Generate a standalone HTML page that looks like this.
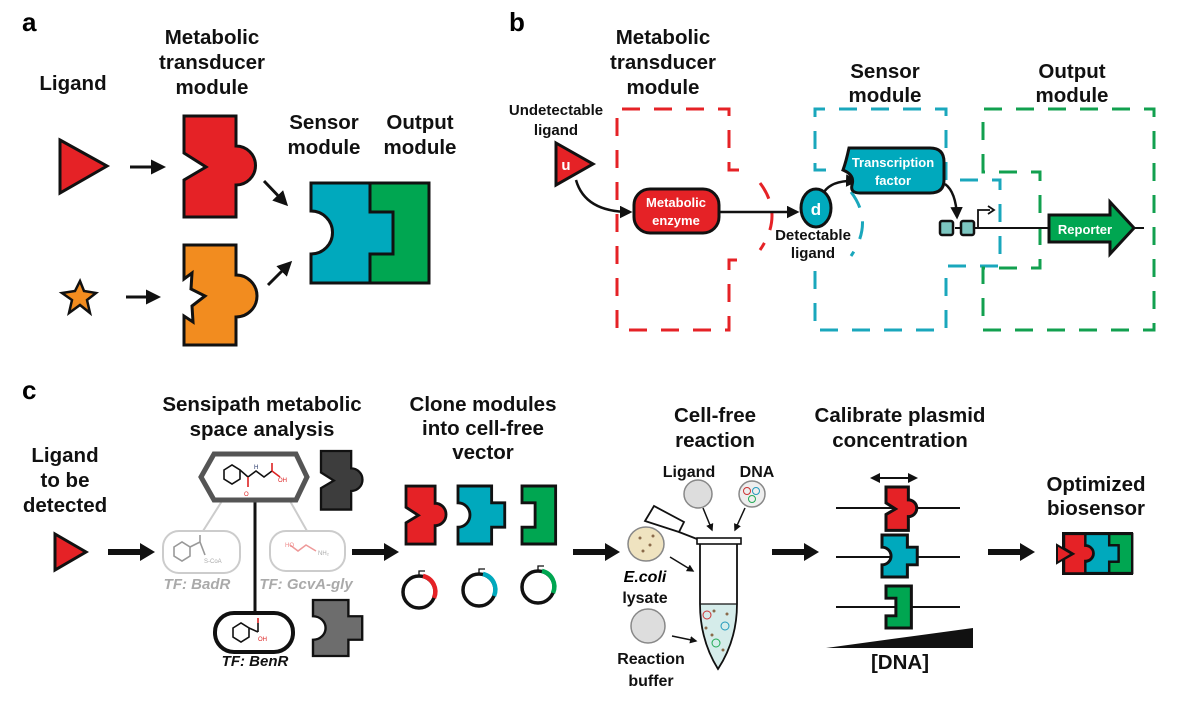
<!DOCTYPE html>
<html><head><meta charset="utf-8"><style>
html,body{margin:0;padding:0;background:#fff}
svg{display:block}
text{font-family:"Liberation Sans",Arial,sans-serif}
.t{font-size:20.5px;font-weight:bold;fill:#111;text-anchor:middle}
.s{font-size:15px;font-weight:bold;fill:#111;text-anchor:middle}
.w{font-size:13px;font-weight:bold;fill:#fff;text-anchor:middle}
</style></head><body>
<svg width="1200" height="717" viewBox="0 0 1200 717" xmlns="http://www.w3.org/2000/svg">
<defs>
<marker id="ah" viewBox="0 0 10 10" refX="8" refY="5" markerWidth="5" markerHeight="5" orient="auto"><path d="M0,0 L10,5 L0,10 Z" fill="#111"/></marker>
<path id="pr" d="M0,0 H52 V30 A19.5,19.5 0 0 1 52,69 V101 H0 V64 L22,51 L0,37 Z"/>
<path id="pc" d="M0,0 H59 V29 H82 V71 H59 V100 H0 V71 A21,21 0 0 0 0,29 Z"/>
<path id="pg" d="M0,0 H59 V100 H0 V71 H23 V29 H0 Z"/>
</defs>

<!-- ============ PANEL A ============ -->
<text x="22" y="31" style="font-size:26px;font-weight:bold">a</text>
<text class="t" x="73" y="90">Ligand</text>
<text class="t" x="212" y="44">Metabolic</text>
<text class="t" x="212" y="69">transducer</text>
<text class="t" x="212" y="94">module</text>
<text class="t" x="324" y="129">Sensor</text>
<text class="t" x="324" y="154">module</text>
<text class="t" x="420" y="129">Output</text>
<text class="t" x="420" y="154">module</text>

<polygon points="60,140 107,166 60,193" fill="#e52226" stroke="#111" stroke-width="3"/>
<line x1="130" y1="167" x2="163" y2="167" stroke="#111" stroke-width="3" marker-end="url(#ah)"/>
<path d="M184,116 H236 V146 A19.5,19.5 0 0 1 236,185 V217 H184 V180 L206,167 L184,153 Z" fill="#e52226" stroke="#111" stroke-width="3"/>

<polygon points="80,281 84,291 96,293 87,300 90,313 80,305 69,313 72,300 62,293 75,291" fill="#f28c1f" stroke="#111" stroke-width="2.5"/>
<line x1="126" y1="297" x2="158" y2="297" stroke="#111" stroke-width="3" marker-end="url(#ah)"/>
<path d="M184,245 H236 V275 A21,21 0 0 1 236,317 V345 H184 V316 L193,322 L192,306 L205,296 L191,289 L192,273 L184,279 Z" fill="#f28c1f" stroke="#111" stroke-width="3"/>

<line x1="264" y1="181" x2="286" y2="204" stroke="#111" stroke-width="3" marker-end="url(#ah)"/>
<line x1="268" y1="285" x2="290" y2="263" stroke="#111" stroke-width="3" marker-end="url(#ah)"/>

<path d="M311,183 H370 V212 H393 V254 H370 V283 H311 V254 A21.5,21.5 0 0 0 311,211 Z" fill="#00a9bd" stroke="#111" stroke-width="3"/>
<path d="M370,183 H429 V283 H370 V254 H393 V212 H370 Z" fill="#00a651" stroke="#111" stroke-width="3"/>

<!-- ============ PANEL B ============ -->
<text x="509" y="31" style="font-size:26px;font-weight:bold">b</text>
<text class="t" x="663" y="44">Metabolic</text>
<text class="t" x="663" y="69">transducer</text>
<text class="t" x="663" y="94">module</text>
<text class="t" x="885" y="78">Sensor</text>
<text class="t" x="885" y="102">module</text>
<text class="t" x="1072" y="78">Output</text>
<text class="t" x="1072" y="102">module</text>
<text class="s" x="556" y="115">Undetectable</text>
<text class="s" x="556" y="135">ligand</text>

<g fill="none" stroke-width="3" stroke-dasharray="18,14">
<path d="M739,170 H729 V109 H617 V330 H729 V260 H739" stroke="#e52226"/>
<path d="M760,183 Q784,215 760,250" stroke="#e52226"/>
<path d="M826,170 H815 V109 H946 V180 H1000 V266 H946 V330 H815 V268 H826" stroke="#1aa7bc"/>
<path d="M851,192 Q874,222 851,256" stroke="#1aa7bc"/>
<path d="M983,172 V109 H1154 V330 H983 V268 H1040 V172 Z" stroke="#12a04f"/>
</g>

<polygon points="556,143 593,164 556,185" fill="#e52226" stroke="#111" stroke-width="3"/>
<text x="566" y="170" style="font-size:15px;font-weight:bold;fill:#fff;text-anchor:middle">u</text>
<path d="M576,180 Q585,212 630,212" fill="none" stroke="#111" stroke-width="2.5" marker-end="url(#ah)"/>
<rect x="634" y="189" width="85" height="44" rx="16" fill="#e52226" stroke="#111" stroke-width="3"/>
<text class="w" x="676" y="207">Metabolic</text>
<text class="w" x="676" y="225">enzyme</text>
<line x1="719" y1="212" x2="797" y2="212" stroke="#111" stroke-width="2.5" marker-end="url(#ah)"/>
<ellipse cx="816" cy="208" rx="15" ry="19" fill="#00a9bd" stroke="#111" stroke-width="3"/>
<text x="816" y="215" style="font-size:17px;font-weight:bold;fill:#fff;text-anchor:middle">d</text>
<text class="s" x="813" y="240">Detectable</text>
<text class="s" x="813" y="258">ligand</text>
<path d="M824,192 Q832,180 856,181" fill="none" stroke="#111" stroke-width="2.5" marker-end="url(#ah)"/>
<path d="M849,148 H930 Q944,148 944,162 V180 Q944,193 930,193 H860 Q850,193 852,185 Q855,175 843,170 Q846,162 849,148 Z" fill="#00a9bd" stroke="#111" stroke-width="3"/>
<text class="w" x="893" y="167">Transcription</text>
<text class="w" x="893" y="185">factor</text>
<path d="M945,184 Q956,192 957,217" fill="none" stroke="#111" stroke-width="2.5" marker-end="url(#ah)"/>
<line x1="955" y1="228" x2="1144" y2="228" stroke="#111" stroke-width="2"/>
<rect x="940" y="221" width="13" height="14" rx="2" fill="#7cc6c0" stroke="#111" stroke-width="2.5"/>
<rect x="961" y="221" width="13" height="14" rx="2" fill="#7cc6c0" stroke="#111" stroke-width="2.5"/>
<path d="M978,228 V210 H990" fill="none" stroke="#111" stroke-width="1.8"/>
<path d="M988,206 L994,210 L988,214" fill="none" stroke="#111" stroke-width="1.8"/>
<polygon points="1049,215 1110,215 1110,202 1134,228 1110,254 1110,242 1049,242" fill="#00a651" stroke="#111" stroke-width="3"/>
<text class="w" x="1085" y="234">Reporter</text>

<!-- ============ PANEL C ============ -->
<text x="22" y="399" style="font-size:26px;font-weight:bold">c</text>
<text class="t" x="65" y="462">Ligand</text>
<text class="t" x="65" y="487">to be</text>
<text class="t" x="65" y="512">detected</text>
<polygon points="55,534 86,552 55,570" fill="#e52226" stroke="#111" stroke-width="3"/>

<g fill="#111">
<polygon points="108,549 140,549 140,543 155,552 140,561 140,555 108,555"/>
<polygon points="352,549 384,549 384,543 399,552 384,561 384,555 352,555"/>
<polygon points="573,549 605,549 605,543 620,552 605,561 605,555 573,555"/>
<polygon points="772,549 804,549 804,543 819,552 804,561 804,555 772,555"/>
<polygon points="988,549 1020,549 1020,543 1035,552 1020,561 1020,555 988,555"/>
</g>

<text class="t" x="262" y="411">Sensipath metabolic</text>
<text class="t" x="262" y="436">space analysis</text>
<line x1="222" y1="501" x2="203" y2="531" stroke="#ccc" stroke-width="2"/>
<line x1="290" y1="501" x2="307" y2="531" stroke="#ccc" stroke-width="2"/>
<line x1="255" y1="501" x2="255" y2="613" stroke="#111" stroke-width="3"/>
<polygon points="201,477 214,454 296,454 307,477 296,500 214,500" fill="#fff" stroke="#555" stroke-width="5"/>
<g fill="none" stroke="#111" stroke-width="1.6">
<polygon points="224,470 232,465 240,470 240,479 232,484 224,479"/>
<path d="M240,470 L248,477 L256,471 L264,477 L272,471"/>
<path d="M248,477 V487" stroke="#d22"/><path d="M272,471 V463" stroke="#d22"/><path d="M272,471 L280,477" stroke="#d22"/>
</g>
<text x="244" y="496" style="font-size:6px;fill:#d22">O</text>
<text x="254" y="469" style="font-size:6px;fill:#236">H</text>
<text x="278" y="482" style="font-size:6px;fill:#d22">OH</text>
<use href="#pr" transform="translate(321,451) scale(0.58)" fill="#3d3d3d" stroke="#111" stroke-width="4"/>

<rect x="163" y="531" width="77" height="42" rx="16" fill="#fff" stroke="#ccc" stroke-width="2"/>
<g fill="none" stroke="#999" stroke-width="1.6">
<polygon points="174,547 182,542 190,547 190,556 182,561 174,556"/>
<path d="M190,547 L200,542 M200,542 V535 M200,542 L205,555"/>
</g>
<text x="204" y="563" style="font-size:6px;fill:#aaa">S-CoA</text>
<rect x="270" y="531" width="75" height="40" rx="16" fill="#fff" stroke="#ccc" stroke-width="2"/>
<path d="M290,545 L298,551 L306,545 L316,551" fill="none" stroke="#e99" stroke-width="1.5"/>
<text x="285" y="547" style="font-size:6px;fill:#e88">HO</text>
<text x="318" y="555" style="font-size:6px;fill:#aaa">NH₂</text>
<text x="197" y="589" style="font-size:15px;font-weight:bold;font-style:italic;fill:#aaa;text-anchor:middle">TF: BadR</text>
<text x="306" y="589" style="font-size:15px;font-weight:bold;font-style:italic;fill:#aaa;text-anchor:middle">TF: GcvA-gly</text>

<rect x="215" y="613" width="78" height="39" rx="19" fill="#fff" stroke="#111" stroke-width="4"/>
<g fill="none" stroke="#111" stroke-width="1.6">
<polygon points="233,628 241,623 249,628 249,637 241,642 233,637"/>
<path d="M249,628 L258,632 M258,632 V623"/>
</g>
<path d="M258,623 V618" stroke="#d22" stroke-width="1.6"/>
<text x="258" y="641" style="font-size:6px;fill:#d22">OH</text>
<text x="255" y="666" style="font-size:15px;font-weight:bold;font-style:italic;fill:#111;text-anchor:middle">TF: BenR</text>
<use href="#pc" transform="translate(313,600) scale(0.6,0.56)" fill="#6d6d6d" stroke="#111" stroke-width="4"/>

<text class="t" x="483" y="411">Clone modules</text>
<text class="t" x="483" y="435">into cell-free</text>
<text class="t" x="483" y="459">vector</text>
<use href="#pr" transform="translate(406,486) scale(0.56,0.575)" fill="#e52226" stroke="#111" stroke-width="5"/>
<use href="#pc" transform="translate(458,486) scale(0.57,0.58)" fill="#00a9bd" stroke="#111" stroke-width="5"/>
<use href="#pg" transform="translate(522,486) scale(0.57,0.58)" fill="#00a651" stroke="#111" stroke-width="5"/>
<g fill="none" stroke-width="3.5">
<circle cx="419" cy="592" r="16" stroke="#111"/><path d="M423,576 A16,16 0 0 1 434,598" stroke="#e52226" stroke-width="4.5"/>
<circle cx="479" cy="590" r="16" stroke="#111"/><path d="M483,574 A16,16 0 0 1 494,596" stroke="#00a9bd" stroke-width="4.5"/>
<circle cx="538" cy="587" r="16" stroke="#111"/><path d="M542,571 A16,16 0 0 1 553,593" stroke="#00a651" stroke-width="4.5"/>
</g>
<g fill="none" stroke="#111" stroke-width="1.3">
<path d="M419,576 V571 H425"/><path d="M479,574 V569 H485"/><path d="M538,571 V566 H544"/>
</g>

<text class="t" x="715" y="422">Cell-free</text>
<text class="t" x="715" y="447">reaction</text>
<text class="s" x="689" y="477" style="font-size:16px">Ligand</text>
<text class="s" x="757" y="477" style="font-size:16px">DNA</text>
<circle cx="698" cy="494" r="14" fill="#ddd" stroke="#888" stroke-width="1.5"/>
<circle cx="752" cy="494" r="13" fill="#eee" stroke="#888" stroke-width="1.5"/>
<circle cx="747" cy="491" r="3.5" fill="none" stroke="#c33" stroke-width="1"/>
<circle cx="756" cy="491" r="3.5" fill="none" stroke="#29b" stroke-width="1"/>
<circle cx="752" cy="499" r="3.5" fill="none" stroke="#2a5" stroke-width="1"/>
<line x1="703" y1="508" x2="712" y2="530" stroke="#111" stroke-width="1.5" marker-end="url(#ah)"/>
<line x1="745" y1="508" x2="735" y2="530" stroke="#111" stroke-width="1.5" marker-end="url(#ah)"/>
<ellipse cx="646" cy="544" rx="18" ry="17" fill="#efe3c0" stroke="#888" stroke-width="1.5"/>
<g fill="#8a6a4a"><circle cx="640" cy="538" r="1.5"/><circle cx="650" cy="545" r="1.5"/><circle cx="643" cy="551" r="1.5"/><circle cx="653" cy="536" r="1.5"/></g>
<text x="645" y="582" style="font-size:16px;font-weight:bold;font-style:italic;text-anchor:middle">E.coli</text>
<text class="s" x="645" y="603" style="font-size:16px">lysate</text>
<line x1="670" y1="557" x2="693" y2="571" stroke="#111" stroke-width="1.5" marker-end="url(#ah)"/>
<circle cx="648" cy="626" r="17" fill="#ddd" stroke="#888" stroke-width="1.5"/>
<text class="s" x="651" y="664" style="font-size:16px">Reaction</text>
<text class="s" x="651" y="686" style="font-size:16px">buffer</text>
<line x1="672" y1="636" x2="696" y2="641" stroke="#111" stroke-width="1.5" marker-end="url(#ah)"/>
<polygon points="645,521 654,506 684,522 679,532" fill="#fff" stroke="#111" stroke-width="1.8"/>
<path d="M679,532 L697,539" stroke="#111" stroke-width="1.8"/>
<path d="M700,604 Q700,640 718,669 Q737,640 737,604 Z" fill="#d5ecea"/>
<path d="M700,544 V604 Q700,640 718,669 Q737,640 737,604 V544" fill="none" stroke="#111" stroke-width="1.8"/>
<line x1="700" y1="604" x2="737" y2="604" stroke="#111" stroke-width="1.2"/>
<rect x="697" y="538" width="44" height="6" fill="#fff" stroke="#111" stroke-width="1.6"/>
<g fill="none" stroke-width="1"><circle cx="707" cy="615" r="4" stroke="#c33"/><circle cx="725" cy="626" r="4" stroke="#29b"/><circle cx="716" cy="643" r="4" stroke="#2a5"/></g>
<g fill="#8a6a4a"><circle cx="714" cy="611" r="1.5"/><circle cx="706" cy="628" r="1.5"/><circle cx="727" cy="614" r="1.5"/><circle cx="712" cy="635" r="1.5"/><circle cx="723" cy="650" r="1.5"/></g>

<text class="t" x="900" y="422">Calibrate plasmid</text>
<text class="t" x="900" y="447">concentration</text>
<line x1="878" y1="478" x2="910" y2="478" stroke="#111" stroke-width="2"/>
<polygon points="870,478 880,473 880,483" fill="#111"/><polygon points="918,478 908,473 908,483" fill="#111"/>
<g stroke="#111" stroke-width="2"><line x1="836" y1="508" x2="960" y2="508"/><line x1="836" y1="557" x2="960" y2="557"/><line x1="836" y1="607" x2="960" y2="607"/></g>
<use href="#pr" transform="translate(886,487) scale(0.43)" fill="#e52226" stroke="#111" stroke-width="7"/>
<use href="#pc" transform="translate(882,535) scale(0.43,0.42)" fill="#00a9bd" stroke="#111" stroke-width="7"/>
<use href="#pg" transform="translate(886,586) scale(0.43,0.42)" fill="#00a651" stroke="#111" stroke-width="7"/>
<polygon points="826,648 973,628 973,648" fill="#111"/>
<text class="t" x="900" y="669">[DNA]</text>

<text class="t" x="1096" y="491">Optimized</text>
<text class="t" x="1096" y="515">biosensor</text>
<rect x="1062" y="532" width="71" height="43" fill="#111"/>
<use href="#pg" transform="translate(1108,534) scale(0.41,0.39)" fill="#00a651" stroke="#111" stroke-width="6"/>
<use href="#pc" transform="translate(1085,534) scale(0.41,0.39)" fill="#00a9bd" stroke="#111" stroke-width="6"/>
<use href="#pr" transform="translate(1064,534) scale(0.41,0.39)" fill="#e52226" stroke="#111" stroke-width="6"/>
<polygon points="1057,545 1072,554 1057,563" fill="#e52226" stroke="#111" stroke-width="2"/>
</svg>
</body></html>
